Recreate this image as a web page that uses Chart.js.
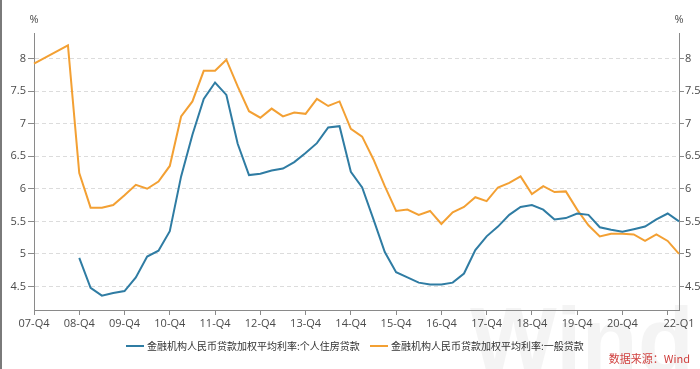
<!DOCTYPE html>
<html>
<head>
<meta charset="utf-8">
<script src="https://cdn.jsdelivr.net/npm/chart.js@4.4.1/dist/chart.umd.min.js"></script>
<style>
html,body{margin:0;padding:0;background:#fff;}
#c{display:block;}
</style>
</head>
<body>
<canvas id="c" width="700" height="369"></canvas>
<script>
const quarters = ["07-Q4","08-Q1","08-Q2","08-Q3","08-Q4","09-Q1","09-Q2","09-Q3","09-Q4","10-Q1","10-Q2","10-Q3","10-Q4","11-Q1","11-Q2","11-Q3","11-Q4","12-Q1","12-Q2","12-Q3","12-Q4","13-Q1","13-Q2","13-Q3","13-Q4","14-Q1","14-Q2","14-Q3","14-Q4","15-Q1","15-Q2","15-Q3","15-Q4","16-Q1","16-Q2","16-Q3","16-Q4","17-Q1","17-Q2","17-Q3","17-Q4","18-Q1","18-Q2","18-Q3","18-Q4","19-Q1","19-Q2","19-Q3","19-Q4","20-Q1","20-Q2","20-Q3","20-Q4","21-Q1","21-Q2","21-Q3","21-Q4","22-Q1"];

const housingRate = [null,null,null,null,4.94,4.48,4.36,4.40,4.43,4.64,4.96,5.05,5.35,6.19,6.83,7.38,7.63,7.44,6.69,6.21,6.23,6.28,6.31,6.41,6.55,6.70,6.94,6.96,6.26,6.02,5.53,5.03,4.72,4.64,4.56,4.53,4.53,4.56,4.70,5.06,5.27,5.42,5.60,5.72,5.75,5.68,5.53,5.55,5.62,5.60,5.41,5.37,5.34,5.38,5.42,5.53,5.62,5.50];

const generalRate = [7.92,null,null,8.20,6.24,5.71,5.71,5.75,5.90,6.06,6.00,6.11,6.35,7.11,7.34,7.81,7.81,7.98,7.57,7.19,7.09,7.23,7.11,7.17,7.15,7.38,7.27,7.34,6.92,6.80,6.45,6.04,5.66,5.68,5.60,5.66,5.46,5.64,5.72,5.87,5.81,6.02,6.09,6.19,5.92,6.04,5.95,5.96,5.68,5.44,5.27,5.31,5.31,5.30,5.20,5.30,5.20,5.00];

const seriesNames = ["金融机构人民币贷款加权平均利率:个人住房贷款","金融机构人民币贷款加权平均利率:一般贷款"];
const yTicks = [4.5,5,5.5,6,6.5,7,7.5,8];
const yMin = 4.14, yMax = 8.39;

const BLUE = "#2f7ca3", ORANGE = "#f3a033";
const AXIS = "#8a8a8a", GRID = "#dcdcdc", TXT = "#4a4a4a";
const tickFont = {family: "'Open Sans', 'Noto Sans', sans-serif", size: 11};

function xTickShown(i){ return (i % 4 === 0) || i === quarters.length - 1; }

const extras = {
  id: "extras",
  beforeDraw(chart){
    const ctx = chart.ctx;
    ctx.save();
    ctx.fillStyle = "#fff";
    ctx.fillRect(0,0,chart.width,chart.height);
    // watermark
    ctx.fillStyle = "rgba(0,0,0,0.045)";
    ctx.font = "bold 92px 'Liberation Sans', sans-serif";
    ctx.textBaseline = "alphabetic";
    ctx.textAlign = "left";
    ctx.fillText("Wind", 470, 372);
    ctx.restore();
  },
  afterDraw(chart){
    const ctx = chart.ctx;
    ctx.save();
    // left border
    ctx.fillStyle = "#7a7a7a";
    ctx.fillRect(0,0,2,chart.height);
    // % units
    ctx.fillStyle = TXT;
    ctx.font = "11px 'Open Sans', sans-serif";
    ctx.textAlign = "center";
    ctx.textBaseline = "middle";
    ctx.fillText("%", chart.chartArea.left, 20);
    ctx.fillText("%", chart.chartArea.right, 20);
    // legend
    const ly = 346;
    const items = [
      {x: 126, color: BLUE, text: seriesNames[0]},
      {x: 370, color: ORANGE, text: seriesNames[1]}
    ];
    ctx.font = "10px 'Noto Sans CJK SC', sans-serif";
    ctx.textAlign = "left";
    items.forEach(it => {
      ctx.strokeStyle = it.color;
      ctx.lineWidth = 2;
      ctx.beginPath();
      ctx.moveTo(it.x, ly);
      ctx.lineTo(it.x + 18, ly);
      ctx.stroke();
      ctx.fillStyle = "#333";
      ctx.fillText(it.text, it.x + 21, ly);
    });
    // source
    ctx.fillStyle = "#d0413f";
    ctx.font = "11px 'Noto Sans CJK SC', sans-serif";
    ctx.textAlign = "right";
    ctx.fillText("数据来源：Wind", 690, 359);
    ctx.restore();
  }
};

new Chart(document.getElementById("c"), {
  type: "line",
  data: {
    labels: quarters,
    datasets: [
      {label: seriesNames[0], data: housingRate, borderColor: BLUE, backgroundColor: BLUE, borderWidth: 2, pointRadius: 0, tension: 0, spanGaps: true, yAxisID: "y"},
      {label: seriesNames[1], data: generalRate, borderColor: ORANGE, backgroundColor: ORANGE, borderWidth: 2, pointRadius: 0, tension: 0, spanGaps: true, yAxisID: "y"}
    ]
  },
  options: {
    responsive: false,
    animation: false,
    devicePixelRatio: 1,
    layout: {padding: {top: 33, bottom: 35, left: 0, right: 0}},
    plugins: {legend: {display: false}, tooltip: {enabled: false}},
    scales: {
      x: {
        type: "category",
        offset: false,
        afterFit(s){ s.height = 24; },
        border: {display: true, color: AXIS, width: 1},
        grid: {
          drawOnChartArea: false,
          drawTicks: true,
          tickLength: 5,
          tickColor: (c) => xTickShown(c.index) && c.index !== quarters.length - 1 ? AXIS : "rgba(0,0,0,0)"
        },
        ticks: {
          autoSkip: false,
          maxRotation: 0,
          minRotation: 0,
          padding: 2,
          color: TXT,
          font: tickFont,
          callback(v, i){ return (i % 4 === 0 && i < 56) || i === quarters.length - 1 ? quarters[i] : ""; }
        }
      },
      y: {
        position: "left",
        min: yMin, max: yMax,
        afterFit(s){ s.width = 34; },
        afterBuildTicks(s){ s.ticks = yTicks.map(v => ({value: v})); },
        border: {display: true, color: AXIS, width: 1, dash: [4,3]},
        grid: {drawOnChartArea: true, color: GRID, lineWidth: 1, tickLength: 6, tickColor: AXIS, tickBorderDash: []},
        ticks: {color: TXT, font: tickFont, padding: 2, callback: (v) => String(v)}
      },
      y2: {
        position: "right",
        min: yMin, max: yMax,
        afterFit(s){ s.width = 21; },
        afterBuildTicks(s){ s.ticks = yTicks.map(v => ({value: v})); },
        border: {display: true, color: AXIS, width: 1},
        grid: {drawOnChartArea: false, tickLength: 5, tickColor: AXIS},
        ticks: {color: TXT, font: tickFont, padding: 1, callback: (v) => String(v)}
      }
    }
  },
  plugins: [extras]
});
</script>
</body>
</html>
